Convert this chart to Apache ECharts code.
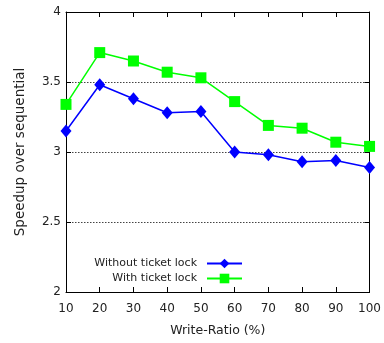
<!DOCTYPE html>
<html>
<head>
<meta charset="utf-8">
<script src="https://cdn.jsdelivr.net/npm/echarts@6/dist/echarts.min.js"></script>
<style>
  html, body { margin: 0; padding: 0; background: #fff; }
  #chart { width: 384px; height: 343px; }
</style>
</head>
<body>
<div id="chart"></div>
<script>
// Write ratios (%) on the x axis
const writeRatios = [10, 20, 30, 40, 50, 60, 70, 80, 90, 100];
// Speedup over the sequential baseline
const withoutTicketLock = [3.15, 3.48, 3.38, 3.28, 3.29, 3.00, 2.98, 2.93, 2.94, 2.89];
const withTicketLock = [3.34, 3.71, 3.65, 3.57, 3.53, 3.36, 3.19, 3.17, 3.07, 3.04];
const seriesNames = ['Without ticket lock', 'With ticket lock'];

const font = 'DejaVu Sans, Verdana, sans-serif';
const chart = echarts.init(document.getElementById('chart'));

const pairs = (ys) => writeRatios.map((x, i) => [x, ys[i]]);

const mirrorAxis = {
  axisLine: { show: true, lineStyle: { color: '#000', width: 1 } },
  axisTick: { show: true, inside: true, length: 5, lineStyle: { color: '#000' } },
  axisLabel: { show: false },
  splitLine: { show: false }
};

chart.setOption({
  animation: false,
  backgroundColor: '#fff',
  grid: { left: 66, right: 12, top: 12, bottom: 51, containLabel: false },
  legend: {
    orient: 'vertical',
    align: 'right',
    right: 141,
    top: 258,
    padding: 0,
    itemGap: 4,
    itemWidth: 35,
    itemHeight: 12,
    textStyle: { fontFamily: font, fontSize: 11, color: '#222', padding: [0, 5, 0, 0] },
    data: seriesNames
  },
  xAxis: [{
    type: 'value',
    min: 10, max: 100, interval: 10,
    name: 'Write-Ratio (%)',
    nameLocation: 'middle',
    nameGap: 32,
    nameTextStyle: { fontFamily: font, fontSize: 12.5, color: '#222' },
    axisLine: { show: true, lineStyle: { color: '#000', width: 1 } },
    axisTick: { show: true, inside: true, length: 5, lineStyle: { color: '#000' } },
    axisLabel: { fontFamily: font, fontSize: 12, color: '#222', margin: 11 },
    splitLine: { show: false }
  }, Object.assign({
    type: 'value', position: 'top', min: 10, max: 100, interval: 10
  }, mirrorAxis)],
  yAxis: [{
    type: 'value',
    min: 2, max: 4, interval: 0.5,
    name: 'Speedup over sequential',
    nameLocation: 'middle',
    nameGap: 39,
    nameTextStyle: { fontFamily: font, fontSize: 13.5, color: '#222' },
    axisLine: { show: true, lineStyle: { color: '#000', width: 1 } },
    axisTick: { show: true, inside: true, length: 5, lineStyle: { color: '#000' } },
    axisLabel: { fontFamily: font, fontSize: 12, color: '#222', margin: 5 },
    splitLine: { show: true, lineStyle: { color: '#444', type: [1.5, 1.5], width: 1 } }
  }, Object.assign({
    type: 'value', position: 'right', min: 2, max: 4, interval: 0.5
  }, mirrorAxis)],
  series: [{
    name: seriesNames[0],
    type: 'line',
    data: pairs(withoutTicketLock),
    symbol: 'diamond',
    symbolSize: [11, 13],
    lineStyle: { color: '#0000ff', width: 1.5 },
    itemStyle: { color: '#0000ff' },
    z: 3
  }, {
    name: seriesNames[1],
    type: 'line',
    data: pairs(withTicketLock),
    symbol: 'rect',
    symbolSize: 11,
    lineStyle: { color: '#00ff00', width: 1.5 },
    itemStyle: { color: '#00ff00' },
    z: 2
  }]
});
</script>
</body>
</html>
